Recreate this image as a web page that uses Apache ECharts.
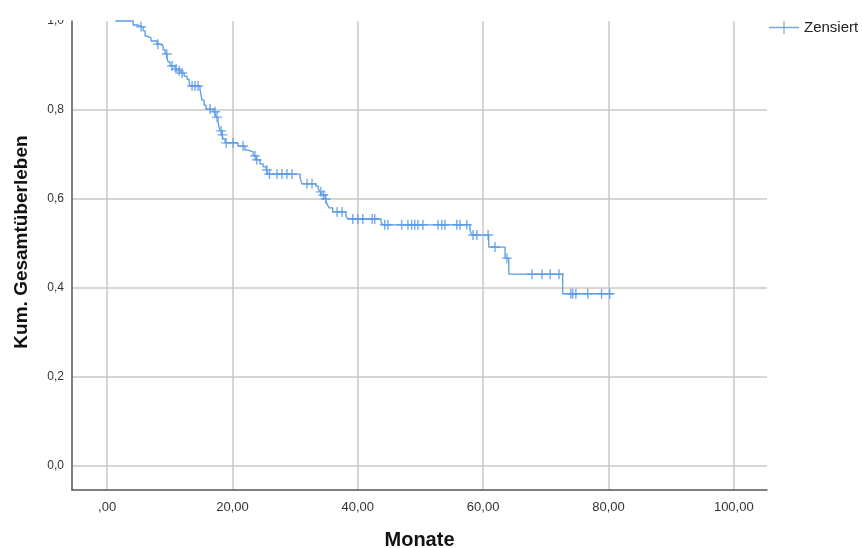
<!DOCTYPE html>
<html><head><meta charset="utf-8">
<script src="https://cdn.jsdelivr.net/npm/echarts@6/dist/echarts.min.js"></script>
<style>html,body{margin:0;padding:0;background:#fff}#c{width:862px;height:548px}</style>
</head><body><div id="c"></div><script>
// Kaplan-Meier step curve: time of each drop (months) and survival after it
const eventTimes=[1.3,4.15,4.94,5.74,6.06,6.38,7.02,7.97,8.45,8.93,9.25,9.57,9.73,10.05,10.85,11.32,11.80,12.28,12.76,13.08,13.24,14.83,14.99,15.15,15.47,15.79,17.07,17.38,17.70,17.86,18.02,18.34,18.50,18.82,20.89,22.0,22.49,23.3,23.8,24.4,24.9,25.4,25.7,30.8,31.1,33.3,33.7,34.0,34.3,34.8,35.1,35.4,36.0,38.1,38.4,43.7,44.0,57.9,58.2,60.9,63.5,64.1,72.7,80.7];
const survival=[1.0,0.991,0.987,0.978,0.966,0.962,0.955,0.948,0.944,0.935,0.926,0.917,0.908,0.899,0.892,0.888,0.883,0.876,0.869,0.861,0.854,0.845,0.834,0.822,0.811,0.802,0.796,0.784,0.773,0.762,0.753,0.744,0.735,0.726,0.719,0.710,0.706,0.697,0.688,0.679,0.672,0.665,0.656,0.647,0.634,0.629,0.622,0.616,0.609,0.600,0.589,0.580,0.571,0.562,0.555,0.548,0.542,0.530,0.519,0.492,0.467,0.431,0.387,0.387];
// Censored observations
const censorTimes=[5.42,8.1,9.52,10.37,11.0,11.5,11.96,13.56,14.03,14.51,16.43,17.22,17.54,18.2,18.4,19.0,20.1,21.69,23.6,23.9,25.5,25.9,27.1,27.9,28.7,29.5,31.9,32.7,34.1,34.5,34.9,36.7,37.5,39.2,40.0,40.8,42.3,42.7,44.3,44.8,47.0,48.0,48.6,49.1,49.6,50.4,52.8,53.4,53.9,55.8,56.3,57.4,58.4,59.0,60.8,61.9,63.8,67.8,69.4,70.7,72.1,74.0,74.3,74.8,76.7,78.9,80.2];
const censorSurvival=[0.987,0.948,0.926,0.899,0.892,0.888,0.883,0.854,0.854,0.854,0.802,0.796,0.784,0.753,0.744,0.726,0.726,0.719,0.697,0.688,0.665,0.656,0.656,0.656,0.656,0.656,0.634,0.634,0.616,0.609,0.600,0.571,0.571,0.555,0.555,0.555,0.555,0.555,0.542,0.542,0.542,0.542,0.542,0.542,0.542,0.542,0.542,0.542,0.542,0.542,0.542,0.542,0.519,0.519,0.519,0.492,0.467,0.431,0.431,0.431,0.431,0.387,0.387,0.387,0.387,0.387,0.387];
const xTicks=[0,20,40,60,80,100];
const yGridTicks=[0,0.2,0.4,0.6,0.8];
const yLabelTicks=[0,0.2,0.4,0.6,0.8,1.0];

const FONT='"Liberation Sans", Arial, sans-serif';
const BLUE='#5a9be6';
const chart=echarts.init(document.getElementById('c'));
const plus='path://M0,4.3 H10 V5.7 H0 Z M4.3,0 H5.7 V10 H4.3 Z';
chart.setOption({
  animation:false,
  textStyle:{fontFamily:FONT},
  grid:{left:72,right:95,top:21,bottom:58,containLabel:false,outerBoundsMode:'none'},
  legend:{
    left:769,top:20,padding:0,itemWidth:30,itemHeight:13,
    textStyle:{fontSize:15,color:'#222',fontFamily:FONT,padding:[3,0,0,0]},
    data:[{name:'Zensiert',icon:'path://M0,5.8 H30 V7.2 H0 Z M14.4,0 H15.6 V13 H14.4 Z'}]
  },
  xAxis:{
    type:'value',min:-5.6,max:105.3,
    name:'Monate',nameLocation:'middle',nameGap:40,
    nameTextStyle:{fontSize:20,fontWeight:'bold',color:'#111',fontFamily:FONT},
    axisLine:{show:true,onZero:false,lineStyle:{color:'#555',width:1.5}},
    axisTick:{show:false,customValues:xTicks},
    axisLabel:{customValues:xTicks,margin:11,fontSize:13,color:'#333',fontFamily:FONT,
      formatter:v=>v===0?',00':v.toFixed(2).replace('.',',')},
    splitLine:{show:true,lineStyle:{color:'#c8c8c8',width:1.5}}
  },
  yAxis:{
    type:'value',min:-0.054,max:1.0,
    name:'Kum. Gesamtüberleben',nameLocation:'middle',nameGap:41,
    nameTextStyle:{fontSize:19,fontWeight:'bold',color:'#111',fontFamily:FONT,padding:[0,0,0,27]},
    axisLine:{show:true,onZero:false,lineStyle:{color:'#555',width:1.5}},
    axisTick:{show:false,customValues:yGridTicks},
    axisLabel:{customValues:yLabelTicks,margin:8,fontSize:12,color:'#333',fontFamily:FONT,
      formatter:v=>v.toFixed(1).replace('.',',')},
    splitLine:{show:true,lineStyle:{color:'#c8c8c8',width:1.5}}
  },
  graphic:[{type:'rect',left:0,top:0,z:100,shape:{width:70,height:20},style:{fill:'#fff'}}],
  series:[
    {type:'line',name:'Kurve',step:'end',showSymbol:false,clip:false,silent:true,
      lineStyle:{color:BLUE,width:1.3},
      data:eventTimes.map((t,i)=>[t,survival[i]])},
    {type:'scatter',name:'Zensiert',symbol:plus,symbolSize:[10,10],silent:true,
      itemStyle:{color:BLUE,opacity:0.85},
      data:censorTimes.map((t,i)=>[t,censorSurvival[i]])}
  ]
});
</script></body></html>
